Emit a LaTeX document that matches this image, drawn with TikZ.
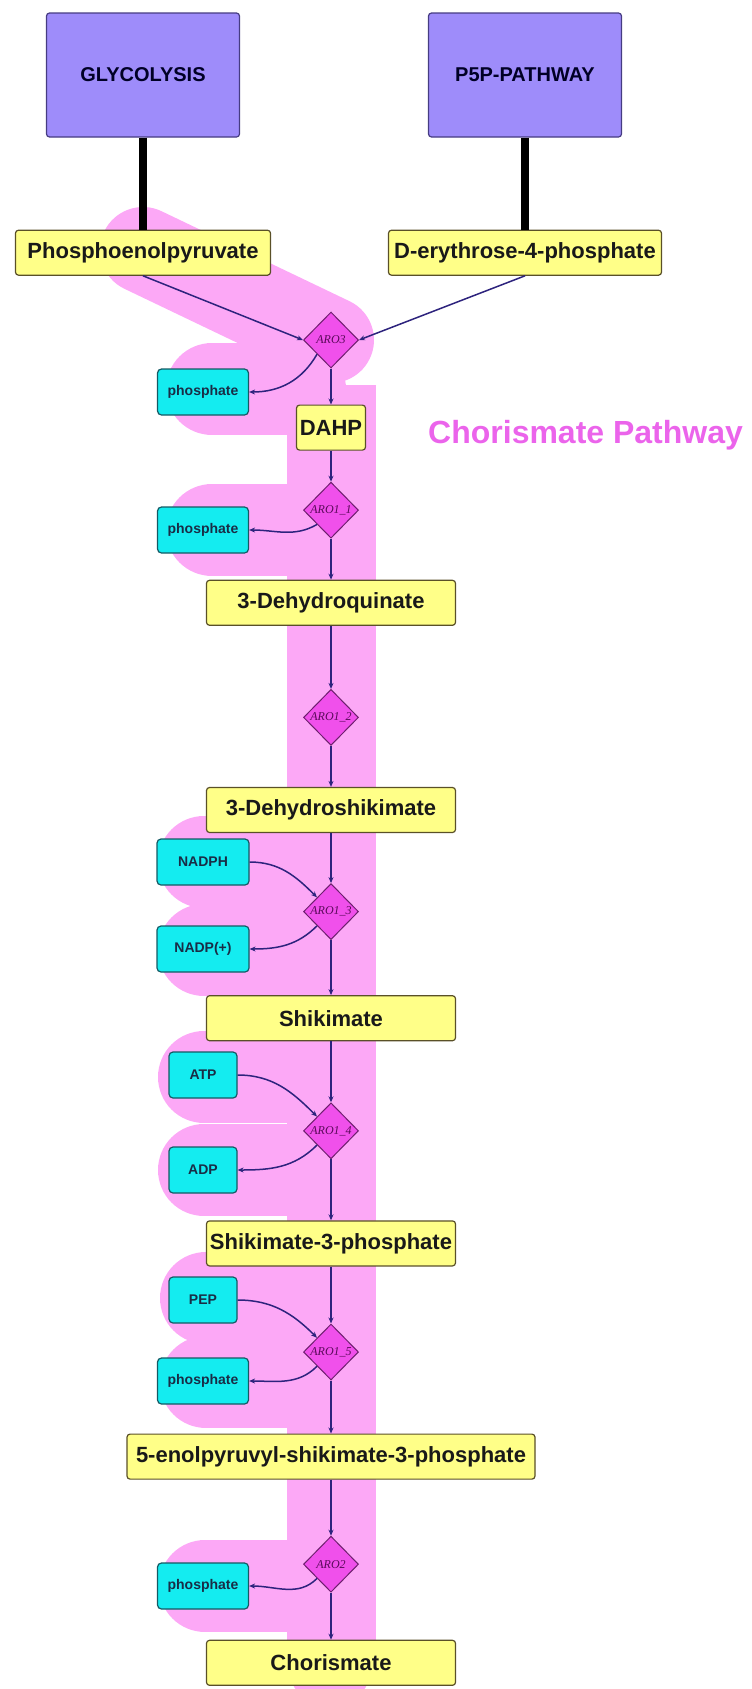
\documentclass[tikz,border=0pt]{standalone}
\usepackage{fontspec}
\setmainfont{Liberation Sans}
\newfontfamily\enzfont{Liberation Serif}
\usepackage{tikz}
\usetikzlibrary{shapes.geometric, arrows.meta, positioning}
\definecolor{pathpurple}{RGB}{158,140,250}
\definecolor{pathborder}{RGB}{70,60,130}
\definecolor{metabyellow}{RGB}{255,255,136}
\definecolor{metabborder}{RGB}{90,80,40}
\definecolor{cofcyan}{RGB}{20,236,240}
\definecolor{cofborder}{RGB}{20,90,100}
\definecolor{coftext}{RGB}{25,45,70}
\definecolor{enzmagenta}{RGB}{240,80,235}
\definecolor{enzborder}{RGB}{110,30,110}
\definecolor{enztext}{RGB}{90,10,90}
\definecolor{hilite}{RGB}{252,168,246}
\definecolor{rxnnavy}{RGB}{45,35,125}
\definecolor{titlepink}{RGB}{235,100,235}
\tikzset{
  pathbox/.style={
    rectangle, rounded corners=3pt, minimum width=193pt, minimum height=124pt,
    draw=pathborder, fill=pathpurple, line width=1.2pt, text centered,
    font=\fontsize{20}{24}\selectfont\bfseries, text=black!85!blue
  },
  metab/.style={
    rectangle, rounded corners=3pt, minimum width=249pt, minimum height=45pt,
    draw=metabborder, fill=metabyellow, line width=1.2pt, text centered,
    font=\fontsize{22}{26}\selectfont\bfseries, text=black!90
  },
  cofactor/.style={
    rectangle, rounded corners=4pt, minimum width=91pt, minimum height=46pt,
    draw=cofborder, fill=cofcyan, line width=1.2pt, text centered,
    font=\fontsize{14}{16}\selectfont\bfseries, text=coftext
  },
  enzyme/.style={
    diamond, minimum width=55pt, minimum height=56pt, inner sep=0pt,
    draw=enzborder, fill=enzmagenta, line width=1pt,
    font=\enzfont\itshape\fontsize{12}{14}\selectfont, text=enztext
  },
  rxn/.style={-{Stealth[length=6pt,width=5pt]}, line width=1.5pt, color=rxnnavy},
  feed/.style={line width=8pt, color=black},
  lobe/.style={draw=hilite, line width=92pt, line cap=round}
}
\begin{document}
\begin{tikzpicture}[x=1pt, y=-1pt]
  \useasboundingbox (0,0) rectangle (752,1689);

  % pink highlight behind the pathway
  \fill[hilite] (287,385) rectangle (376,1660);
  \fill[hilite, rounded corners=12pt] (293,1600) rectangle (367,1694);
  \draw[hilite, line width=86pt, line cap=round] (143,250) -- (331,340);
  \foreach \cx/\cy in {212/389, 212/530, 204/862, 204/950, 204/1077,
                       204/1170, 206/1298, 206/1382, 205/1586}
    \draw[lobe] (\cx,\cy) -- (300,\cy);

  \node[pathbox] (glyc) at (143,75) {GLYCOLYSIS};
  \node[pathbox] (p5p) at (525,75) {P5P-PATHWAY};
  \node[metab, minimum width=255pt, below=92pt of glyc] (pepyr) {Phosphoenolpyruvate};
  \node[metab, minimum width=273pt, below=92pt of p5p] (e4p) {D-erythrose-4-phosphate};

  \node[enzyme] (aro3) at (331,340) {ARO3};
  \node[metab, minimum width=69pt, below=36pt of aro3] (dahp) {DAHP};
  \node[enzyme, below=31pt of dahp] (aro11) {ARO1\_1};
  \node[metab, below=41pt of aro11] (dhq) {3-Dehydroquinate};
  \node[enzyme, below=63pt of dhq] (aro12) {ARO1\_2};
  \node[metab, below=41pt of aro12] (dhs) {3-Dehydroshikimate};
  \node[enzyme, below=50pt of dhs] (aro13) {ARO1\_3};
  \node[metab, below=55pt of aro13] (shik) {Shikimate};
  \node[enzyme, below=61pt of shik] (aro14) {ARO1\_4};
  \node[metab, below=61pt of aro14] (s3p) {Shikimate-3-phosphate};
  \node[enzyme, below=57pt of s3p] (aro15) {ARO1\_5};
  \node[metab, minimum width=408pt, below=53pt of aro15] (epsp)
    {5-enolpyruvyl-shikimate-3-phosphate};
  \node[enzyme, below=56pt of epsp] (aro2) {ARO2};
  \node[metab, below=47pt of aro2] (chor) {Chorismate};

  \node[cofactor] (pho1) at (203,392) {phosphate};
  \node[cofactor] (pho2) at (203,530) {phosphate};
  \node[cofactor, minimum width=92pt] (nadph) at (203,862) {NADPH};
  \node[cofactor, minimum width=92pt] (nadp) at (203,949) {NADP(+)};
  \node[cofactor, minimum width=68pt] (atp) at (203,1075) {ATP};
  \node[cofactor, minimum width=68pt] (adp) at (203,1170) {ADP};
  \node[cofactor, minimum width=68pt] (pep) at (203,1300) {PEP};
  \node[cofactor] (pho3) at (203,1381) {phosphate};
  \node[cofactor] (pho4) at (203,1586) {phosphate};

  \node[anchor=base west, inner sep=0pt, text=titlepink,
        font=\fontsize{32}{36}\selectfont\bfseries] (title) at (428,443)
    {Chorismate Pathway};

  \draw[feed] (glyc) -- (pepyr);
  \draw[feed] (p5p) -- (e4p);
  \draw[rxn] (pepyr.south) -- (aro3.west);
  \draw[rxn] (e4p.south) -- (aro3.east);
  \draw[rxn] (aro3) -- (dahp);
  \draw[rxn] (aro3.south west) to[out=-120, in=0] (pho1.east);
  \foreach \a/\b in {dahp/aro11, aro11/dhq, dhq/aro12, aro12/dhs, dhs/aro13,
                     aro13/shik, shik/aro14, aro14/s3p, s3p/aro15, aro15/epsp,
                     epsp/aro2, aro2/chor}
    \draw[rxn] (\a) -- (\b);
  \draw[rxn] (aro11.south west) to[out=-150, in=0] (pho2.east);
  \draw[rxn] (nadph.east) to[out=0, in=135] (aro13.north west);
  \draw[rxn] (aro13.south west) to[out=-135, in=0] (nadp.east);
  \draw[rxn] (atp.east) to[out=0, in=135] (aro14.north west);
  \draw[rxn] (aro14.south west) to[out=-135, in=0] (adp.east);
  \draw[rxn] (pep.east) to[out=0, in=135] (aro15.north west);
  \draw[rxn] (aro15.south west) to[out=-135, in=0] (pho3.east);
  \draw[rxn] (aro2.south west) to[out=-135, in=0] (pho4.east);
\end{tikzpicture}
\end{document}
